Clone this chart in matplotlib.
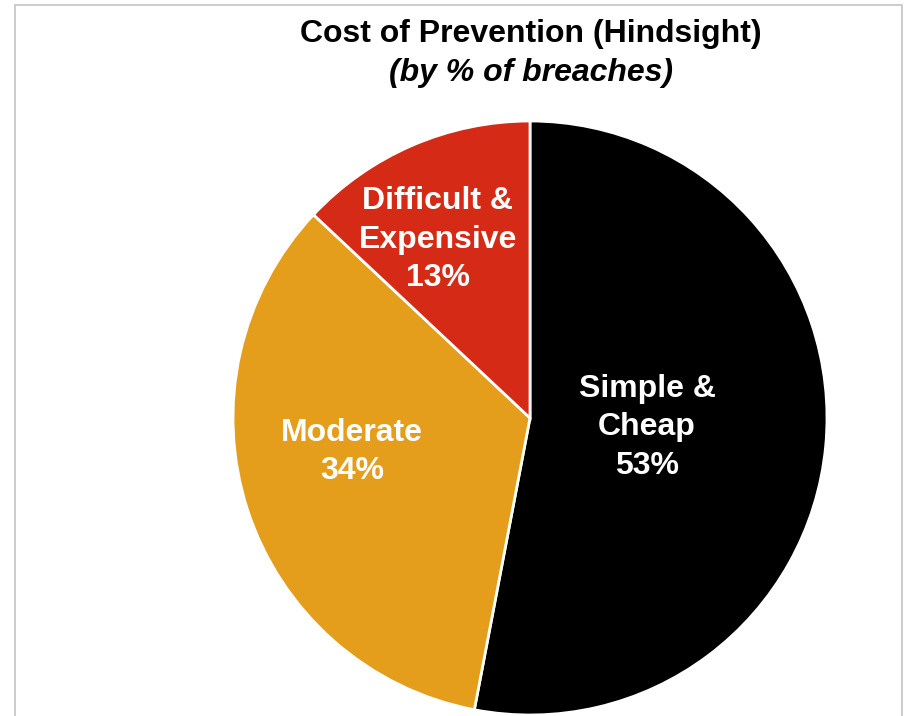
import matplotlib.pyplot as plt
from matplotlib.patches import Rectangle

# porcentaje de brechas segun costo de prevencion
categorias = ["Simple &\nCheap", "Moderate", "Difficult &\nExpensive"]
porcentajes = [53, 34, 13]
colores = ["#000000", "#E59D1C", "#D52A15"]

# posicion de cada etiqueta dentro de su porcion (unidades del radio)
pos_etiquetas = [(0.394, -0.031), (-0.599, -0.115), (-0.310, 0.600)]


def main():
    plt.rcParams["font.family"] = ["Liberation Sans", "DejaVu Sans"]

    fig = plt.figure(figsize=(9.05, 7.16), dpi=100)
    ax = fig.add_axes([0, 0, 1, 1])

    ax.pie(porcentajes, colors=colores, startangle=90, counterclock=False,
           radius=1.0, wedgeprops=dict(edgecolor="white", linewidth=2))

    for nombre, valor, (x, y) in zip(categorias, porcentajes, pos_etiquetas):
        ax.text(x, y, f"{nombre}\n{valor}%", color="white", fontsize=23,
                fontweight="bold", ha="center", va="center", linespacing=1.37)

    # centro del pie en (530, 418) px con radio de 297 px
    ax.set_aspect("auto")
    ax.set_xlim(-530 / 297, (905 - 530) / 297)
    ax.set_ylim(-(716 - 418) / 297, 418 / 297)
    ax.axis("off")

    fig.text(531 / 905, 1 - 34 / 716, "Cost of Prevention (Hindsight)",
             fontsize=23, fontweight="bold", ha="center", va="center")
    fig.text(531 / 905, 1 - 73 / 716, "(by % of breaches)",
             fontsize=23, fontweight="bold", fontstyle="italic",
             ha="center", va="center")

    # marco gris del recuadro
    marco = Rectangle((15 / 905, -0.05), (902 - 15) / 905, 1.05 - 4.5 / 716,
                      transform=fig.transFigure, fill=False,
                      edgecolor="#C4C4C4", linewidth=1.2)
    fig.patches.append(marco)

    plt.savefig("out.png", dpi=100)


if __name__ == "__main__":
    main()
